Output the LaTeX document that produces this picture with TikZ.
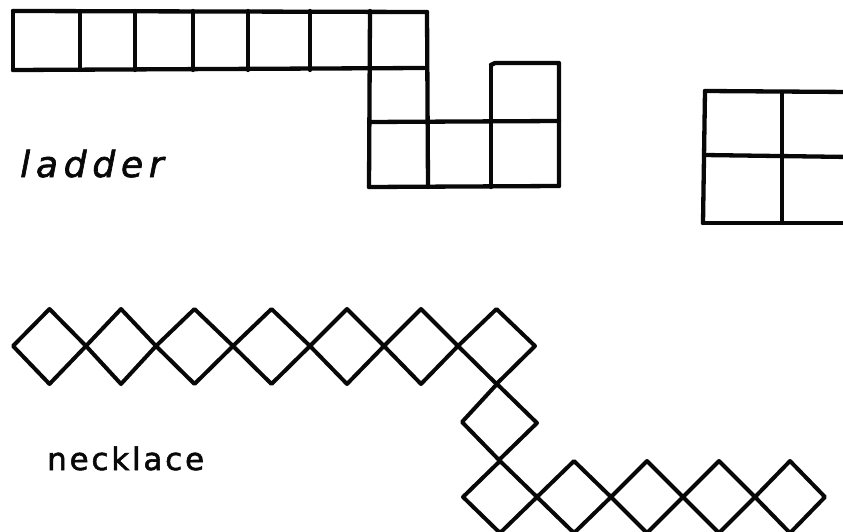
\documentclass[tikz,border=0pt]{standalone}
\usepackage{fontspec}
\usetikzlibrary{positioning}
\newfontfamily\ladderfont[LetterSpace=16,FakeBold=1.8]{DejaVu Sans}
\newfontfamily\necklacefont[LetterSpace=9,FakeBold=1.8]{DejaVu Sans}
\definecolor{inkblack}{RGB}{8,8,8}
\tikzset{
 rung/.style={inkblack,line width=4.3pt,line cap=round,line join=round},
 bead/.style={inkblack,line width=4pt,line cap=round,line join=round},
 handlabel/.style={inkblack,anchor=base west,inner sep=0pt}
}
\begin{document}
\begin{tikzpicture}[x=1pt,y=-1pt]
 \useasboundingbox (0,0) rectangle (843,532);
 \clip (0,0) rectangle (843,532);
 \draw[rung] (13,11)--(427,12);
 \draw[rung] (13,70)--(424,68);
 \foreach \xv in {13,80,135,193,248,310} \draw[rung] (\xv,11)--(\xv,70);
 \draw[rung] (370,11)--(369,187);
 \draw[rung] (427,12)--(428,187);
 \draw[rung] (369,122)--(559,121);
 \draw[rung] (369,187)--(559,186);
 \draw[rung] (491,65)--(491,187);
 \draw[rung] (491,65)--(495,63)--(559,63)--(559,186);
 \draw[rung] (705,91)--(850,92);
 \draw[rung] (704,155)--(850,157);
 \draw[rung] (703,223)--(850,223);
 \draw[rung] (705,91)--(703,223);
 \draw[rung] (782,92)--(782,223);
 \foreach \l/\r in {13/86,86/156,156/233,233/310,310/384,384/458,458/535}
  \draw[bead] (\l,346)--({(\l+\r)/2},309)--(\r,346)--({(\l+\r)/2},384)--cycle;
 \draw[bead] (462,422)--(497,384)--(537,423)--(499,460)--cycle;
 \foreach \l/\r in {463/537,537/611,611/683,683/755,755/825}
  \draw[bead] (\l,497)--({(\l+\r)/2},461)--(\r,497)--({(\l+\r)/2},533)--cycle;
 \node[handlabel,font=\ladderfont\itshape\fontsize{36}{36}\selectfont] (ladder) at (20,177) {ladder};
 \node[handlabel,font=\necklacefont\fontsize{31}{31}\selectfont] (necklace) at (47,470) {necklace};
\end{tikzpicture}
\end{document}
